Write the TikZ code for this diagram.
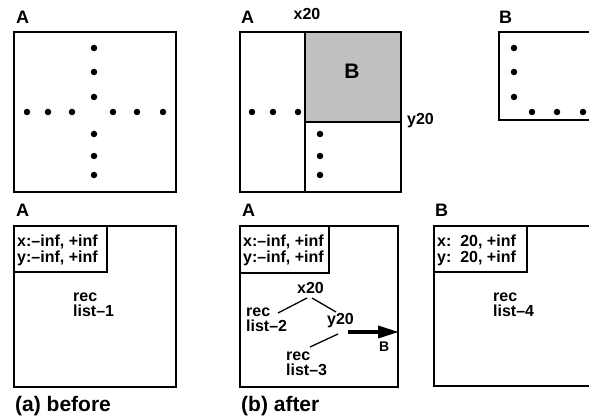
\documentclass[tikz,border=0pt]{standalone}
\usepackage{fontspec}
\setmainfont{Liberation Sans}
\usetikzlibrary{arrows.meta}
\definecolor{greyfill}{RGB}{192,192,192}
\tikzset{
  box/.style={draw=black, line width=1.6pt},
  lbl/.style={inner sep=0pt, anchor=base west, font=\bfseries\fontsize{16}{16}\selectfont},
  big/.style={inner sep=0pt, anchor=base west, font=\bfseries\fontsize{18}{18}\selectfont},
  captxt/.style={inner sep=0pt, anchor=base west, font=\bfseries\fontsize{21}{21}\selectfont},
  small/.style={inner sep=0pt, anchor=base west, font=\bfseries\fontsize{14}{14}\selectfont},
  dot/.style={circle, fill=black, inner sep=0pt, minimum size=6.5pt},
  link/.style={line width=1.3pt},
}
\begin{document}
\begin{tikzpicture}[x=1pt, y=-1pt]
\useasboundingbox (0,0) rectangle (589,419);
\clip (0,0) rectangle (589,419);

% ---------- top left: A before ----------
\node[big] (tA1) at (16,24) {A};
\draw[box] (14,32) rectangle (176,192);
\foreach \y [count=\i] in {48,72,97,134,156,175} \node[dot] (v\i) at (94,\y) {};
\foreach \x [count=\i] in {27,48,72,113,137,163} \node[dot] (h\i) at (\x,112) {};

% ---------- top middle: A after ----------
\node[big] (tA2) at (241,24) {A};
\node[lbl, anchor=base] (tx20) at (307,20) {x20};
\fill[greyfill] (305,32) rectangle (401,122);
\draw[box] (240,32) rectangle (401,192);
\draw[box] (305,32) -- (305,192);
\draw[box] (305,122) -- (401,122);
\node[font=\bfseries\fontsize{21}{21}\selectfont, inner sep=0pt, anchor=base] (gB) at (352,79) {B};
\node[lbl] (ty20) at (407,125) {y20};
\foreach \x [count=\i] in {252,273,298} \node[dot] (mh\i) at (\x,112) {};
\foreach \y [count=\i] in {134,156,175} \node[dot] (mv\i) at (320,\y) {};

% ---------- top right: B ----------
\node[big] (tB) at (499,24) {B};
\draw[box] (499,32) rectangle (620,120);
\foreach \y [count=\i] in {48,72,97} \node[dot] (bv\i) at (514,\y) {};
\foreach \x [count=\i] in {532,557,583} \node[dot] (bh\i) at (\x,112) {};

% ---------- bottom left ----------
\node[big] (bA1) at (16,217) {A};
\draw[box] (14,226) rectangle (176,387);
\draw[box] (14,226) rectangle (107,272);
\node[lbl] (r1a) at (17,247) {x:\textendash inf, +inf};
\node[lbl] (r1b) at (17,263) {y:\textendash inf, +inf};
\node[lbl] (rec1) at (73,302) {rec};
\node[lbl] (lst1) at (73,317) {list\textendash 1};
\node[captxt] (capa) at (15,411) {(a) before};

% ---------- bottom middle ----------
\node[big] (bA2) at (242,217) {A};
\draw[box] (240,226) rectangle (398,387);
\draw[box] (240,226) rectangle (329,273);
\node[lbl] (r2a) at (243,247) {x:\textendash inf, +inf};
\node[lbl] (r2b) at (243,263) {y:\textendash inf, +inf};
\node[lbl] (nx20) at (297,294) {x20};
\node[lbl] (rec2) at (246,317) {rec};
\node[lbl] (lst2) at (246,332) {list\textendash 2};
\node[lbl] (ny20) at (327,325) {y20};
\node[lbl] (rec3) at (286,361) {rec};
\node[lbl] (lst3) at (286,376) {list\textendash 3};
\coordinate (c1) at (278,313);
\coordinate (c2) at (307,298);
\coordinate (c3) at (312,298);
\coordinate (c4) at (336,312);
\coordinate (c5) at (338,334);
\coordinate (c6) at (310,347);
\draw[link] (c1) -- (c2);
\draw[link] (c3) -- (c4);
\draw[link] (c5) -- (c6);
\coordinate (as) at (348,332);
\coordinate (ae) at (399,332);
\draw[line width=3.5pt, -{Triangle[length=21pt, width=12pt]}] (as) -- (ae);
\node[small] (arB) at (379,352) {B};
\node[captxt] (capb) at (241,411) {(b) after};

% ---------- bottom right ----------
\node[big] (bB) at (435,217) {B};
\draw[box] (434,226) rectangle (620,386);
\draw[box] (434,226) rectangle (527,272);
\node[lbl] (r4a) at (437,247) {x:\ \ 20, +inf};
\node[lbl] (r4b) at (437,263) {y:\ \ 20, +inf};
\node[lbl] (rec4) at (493,302) {rec};
\node[lbl] (lst4) at (493,317) {list\textendash 4};
\end{tikzpicture}
\end{document}
